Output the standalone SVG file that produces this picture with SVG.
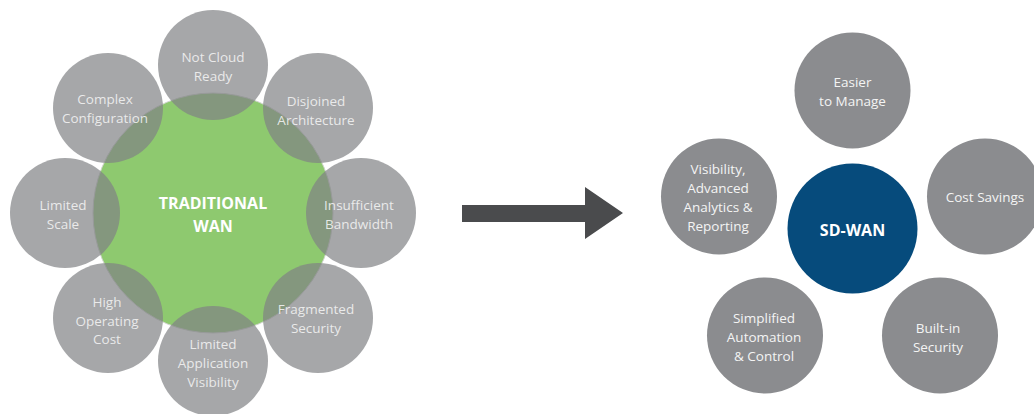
<svg xmlns="http://www.w3.org/2000/svg" width="1034" height="414" viewBox="0 0 1034 414">
  <style>
    .bg { fill: #ffffff; }
    .core-green { fill: #8ec96f; stroke: #cfd3cc; stroke-width: 1; }
    .sat-left { fill: #808285; fill-opacity: 0.7; }
    .sat-right { fill: #8b8c8f; }
    .core-blue { fill: #064b7c; }
    .lbl { font-family: "Open Sans", "Liberation Sans", sans-serif; font-size: 13.5px; fill: #f4f4f4; text-anchor: middle; }
    .soft { fill-opacity: 0.88; }
    .title { font-family: "Open Sans", "Liberation Sans", sans-serif; font-size: 16px; font-weight: 700; fill: #ffffff; text-anchor: middle; }
    .arrow { fill: #4a4b4d; }
  </style>

  <rect class="bg" x="0" y="0" width="1034" height="414"/>

  <!-- Traditional WAN cluster -->
  <g id="traditional-wan">
    <circle class="core-green" cx="213" cy="213" r="120"/>
  </g>
  <g id="not-cloud-ready">
    <circle class="sat-left" cx="213" cy="65" r="55"/>
    <text class="lbl soft" x="213" y="62">Not Cloud</text>
    <text class="lbl soft" x="213" y="81">Ready</text>
  </g>
  <g id="disjoined-architecture">
    <circle class="sat-left" cx="318" cy="108" r="55"/>
    <text class="lbl soft" x="316" y="106">Disjoined</text>
    <text class="lbl soft" x="316" y="125">Architecture</text>
  </g>
  <g id="insufficient-bandwidth">
    <circle class="sat-left" cx="361" cy="213" r="55"/>
    <text class="lbl soft" x="359" y="210">Insufficient</text>
    <text class="lbl soft" x="359" y="229">Bandwidth</text>
  </g>
  <g id="fragmented-security">
    <circle class="sat-left" cx="318" cy="318" r="55"/>
    <text class="lbl soft" x="316" y="314">Fragmented</text>
    <text class="lbl soft" x="316" y="333">Security</text>
  </g>
  <g id="limited-application-visibility">
    <circle class="sat-left" cx="213" cy="361" r="55"/>
    <text class="lbl soft" x="213" y="349">Limited</text>
    <text class="lbl soft" x="213" y="368">Application</text>
    <text class="lbl soft" x="213" y="387">Visibility</text>
  </g>
  <g id="high-operating-cost">
    <circle class="sat-left" cx="108" cy="318" r="55"/>
    <text class="lbl soft" x="107" y="307">High</text>
    <text class="lbl soft" x="107" y="326">Operating</text>
    <text class="lbl soft" x="107" y="344">Cost</text>
  </g>
  <g id="limited-scale">
    <circle class="sat-left" cx="65" cy="213" r="55"/>
    <text class="lbl soft" x="63" y="210">Limited</text>
    <text class="lbl soft" x="63" y="229">Scale</text>
  </g>
  <g id="complex-configuration">
    <circle class="sat-left" cx="108" cy="108" r="55"/>
    <text class="lbl soft" x="105" y="104">Complex</text>
    <text class="lbl soft" x="105" y="123">Configuration</text>
  </g>
  <g id="traditional-wan-label">
    <text class="title" x="213" y="209">TRADITIONAL</text>
    <text class="title" x="213" y="232">WAN</text>
  </g>

  <!-- Transition arrow -->
  <g id="connectors">
    <path class="arrow" d="M462 205 H585 V187 L623 213 L585 239 V222 H462 Z"/>
  </g>

  <!-- SD-WAN cluster -->
  <g id="sd-wan">
    <circle class="core-blue" cx="852.5" cy="228.5" r="65"/>
    <text class="title" x="852.5" y="236">SD-WAN</text>
  </g>
  <g id="easier-to-manage">
    <circle class="sat-right" cx="852.5" cy="90.5" r="58"/>
    <text class="lbl" x="852.5" y="87">Easier</text>
    <text class="lbl" x="852.5" y="106">to Manage</text>
  </g>
  <g id="cost-savings">
    <circle class="sat-right" cx="985" cy="196.5" r="58"/>
    <text class="lbl" x="985" y="202">Cost Savings</text>
  </g>
  <g id="built-in-security">
    <circle class="sat-right" cx="940" cy="335.5" r="58"/>
    <text class="lbl" x="938" y="333">Built-in</text>
    <text class="lbl" x="938" y="352">Security</text>
  </g>
  <g id="simplified-automation">
    <circle class="sat-right" cx="765" cy="335.5" r="58"/>
    <text class="lbl" x="764" y="323">Simplified</text>
    <text class="lbl" x="764" y="342">Automation</text>
    <text class="lbl" x="764" y="361">&amp; Control</text>
  </g>
  <g id="visibility-analytics">
    <circle class="sat-right" cx="719" cy="196.5" r="58"/>
    <text class="lbl" x="718" y="174">Visibility,</text>
    <text class="lbl" x="718" y="193">Advanced</text>
    <text class="lbl" x="718" y="212">Analytics &amp;</text>
    <text class="lbl" x="718" y="231">Reporting</text>
  </g>
</svg>
